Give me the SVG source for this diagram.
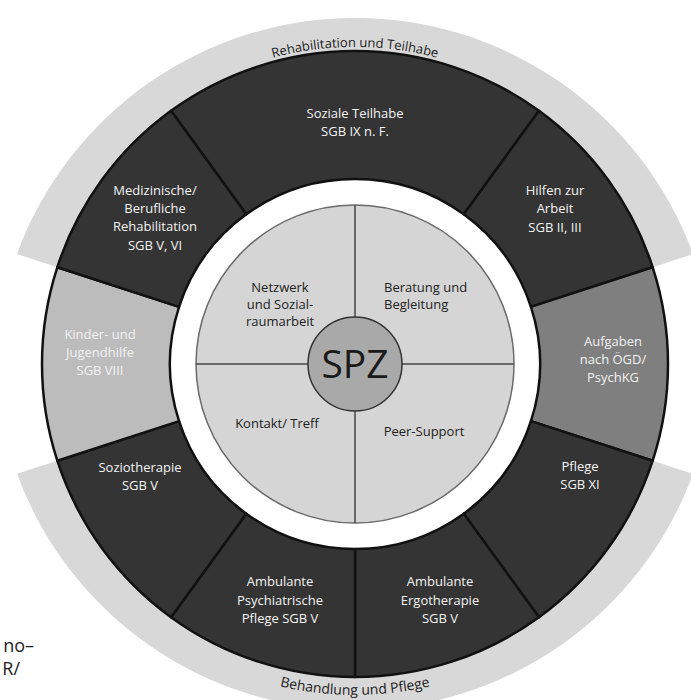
<svg xmlns="http://www.w3.org/2000/svg" width="691" height="700" viewBox="0 0 691 700">
<style>
.band{fill:#d8d8d8;stroke:none}
.seg{stroke:#111;stroke-width:2.5;stroke-linejoin:round}
.dark{fill:#343434}
.lt{font-family:"Open Sans","Noto Sans","DejaVu Sans",sans-serif;font-size:13px;fill:#f2f2f2;text-anchor:middle}
.it{font-family:"Open Sans","Noto Sans","DejaVu Sans",sans-serif;font-size:13px;fill:#222}
.bt{font-family:"Open Sans","Noto Sans","DejaVu Sans",sans-serif;fill:#222}
.div{stroke:#444;stroke-width:1.5;fill:none}
</style>
<defs>
<path id="topArc" d="M 57.1 255.6 A 317 317 0 0 1 652.9 255.6"/>
<path id="botArc" d="M 44 477.2 A 331 331 0 0 0 666 477.2"/>
</defs>
<rect width="691" height="700" fill="#ffffff"/>

<g id="band-top">
<path class="band" d="M 57.3 267.3 L 17 254 A 360 360 0 0 1 693 254 L 652.7 267.3 A 313 313 0 0 0 57.3 267.3 Z"/>
<text class="bt" font-size="13"><textPath href="#topArc" startOffset="50%" text-anchor="middle">Rehabilitation und Teilhabe</textPath></text>
</g>
<g id="band-bottom">
<path class="band" d="M 57.3 460.7 L 17 473.8 A 360 360 0 0 0 693 473.8 L 652.7 460.7 A 313 313 0 0 1 57.3 460.7 Z"/>
<text class="bt" font-size="14"><textPath href="#botArc" startOffset="50%" text-anchor="middle">Behandlung und Pflege</textPath></text>
</g>

<g id="soziale-teilhabe">
<path class="seg dark" d="M 171.02 110.78 A 313 313 0 0 1 538.98 110.78 L 463.74 214.33 A 185 185 0 0 0 246.26 214.33 Z"/>
<text class="lt" x="355" y="118">Soziale Teilhabe</text>
<text class="lt" x="355" y="136">SGB IX n. F.</text>
</g>
<g id="hilfen-arbeit">
<path class="seg dark" d="M 538.98 110.78 A 313 313 0 0 1 652.68 267.28 L 530.95 306.83 A 185 185 0 0 0 463.74 214.33 Z"/>
<text class="lt" x="555" y="195">Hilfen zur</text>
<text class="lt" x="555" y="213">Arbeit</text>
<text class="lt" x="555" y="232">SGB II, III</text>
</g>
<g id="aufgaben">
<path class="seg" fill="#7f7f7f" d="M 652.68 267.28 A 313 313 0 0 1 652.68 460.72 L 530.95 421.17 A 185 185 0 0 0 530.95 306.83 Z"/>
<text class="lt" x="613" y="346">Aufgaben</text>
<text class="lt" x="613" y="364">nach ÖGD/</text>
<text class="lt" x="613" y="382">PsychKG</text>
</g>
<g id="pflege">
<path class="seg dark" d="M 652.68 460.72 A 313 313 0 0 1 538.98 617.22 L 463.74 513.67 A 185 185 0 0 0 530.95 421.17 Z"/>
<text class="lt" x="580" y="471">Pflege</text>
<text class="lt" x="580" y="489">SGB XI</text>
</g>
<g id="ergotherapie">
<path class="seg dark" d="M 538.98 617.22 A 313 313 0 0 1 355 677 L 355 549 A 185 185 0 0 0 463.74 513.67 Z"/>
<text class="lt" x="440" y="586">Ambulante</text>
<text class="lt" x="440" y="605">Ergotherapie</text>
<text class="lt" x="440" y="623">SGB V</text>
</g>
<g id="psychiatrische-pflege">
<path class="seg dark" d="M 355 677 A 313 313 0 0 1 171.02 617.22 L 246.26 513.67 A 185 185 0 0 0 355 549 Z"/>
<text class="lt" x="280" y="586">Ambulante</text>
<text class="lt" x="280" y="605">Psychiatrische</text>
<text class="lt" x="280" y="623">Pflege SGB V</text>
</g>
<g id="soziotherapie">
<path class="seg dark" d="M 171.02 617.22 A 313 313 0 0 1 57.32 460.72 L 179.05 421.17 A 185 185 0 0 0 246.26 513.67 Z"/>
<text class="lt" x="140" y="472">Soziotherapie</text>
<text class="lt" x="140" y="490">SGB V</text>
</g>
<g id="kinder-jugendhilfe">
<path class="seg" fill="#bcbcbc" d="M 57.32 460.72 A 313 313 0 0 1 57.32 267.28 L 179.05 306.83 A 185 185 0 0 0 179.05 421.17 Z"/>
<text class="lt" x="100" y="339">Kinder- und</text>
<text class="lt" x="100" y="357">Jugendhilfe</text>
<text class="lt" x="100" y="375">SGB VIII</text>
</g>
<g id="medizinische-rehabilitation">
<path class="seg dark" d="M 57.32 267.28 A 313 313 0 0 1 171.02 110.78 L 246.26 214.33 A 185 185 0 0 0 179.05 306.83 Z"/>
<text class="lt" x="155" y="195">Medizinische/</text>
<text class="lt" x="155" y="213">Berufliche</text>
<text class="lt" x="155" y="231">Rehabilitation</text>
<text class="lt" x="155" y="250">SGB V, VI</text>
</g>

<g id="inner-circle">
<circle cx="355" cy="364" r="159" fill="#d5d5d5" stroke="#6a6a6a" stroke-width="1.5"/>
</g>
<g id="connectors">
<line class="div" x1="355" y1="205" x2="355" y2="317"/>
<line class="div" x1="355" y1="411" x2="355" y2="523"/>
<line class="div" x1="196" y1="364" x2="308" y2="364"/>
<line class="div" x1="402" y1="364" x2="514" y2="364"/>
</g>
<g id="netzwerk">
<text class="it" x="280" y="292" text-anchor="middle">Netzwerk</text>
<text class="it" x="280" y="309" text-anchor="middle">und Sozial-</text>
<text class="it" x="280" y="326" text-anchor="middle">raumarbeit</text>
</g>
<g id="beratung">
<text class="it" x="384" y="292">Beratung und</text>
<text class="it" x="384" y="309">Begleitung</text>
</g>
<g id="kontakt">
<text class="it" x="277" y="428" text-anchor="middle">Kontakt/ Treff</text>
</g>
<g id="peer-support">
<text class="it" x="424" y="436" text-anchor="middle">Peer-Support</text>
</g>
<g id="spz">
<circle cx="355" cy="364" r="47" fill="#a9a9a9" stroke="#333" stroke-width="1.5"/>
<text x="355" y="378" text-anchor="middle" font-family="'Open Sans','Noto Sans',sans-serif" font-size="39" fill="#1a1a1a">SPZ</text>
</g>

<g id="fragments">
<text x="34" y="652" text-anchor="end" font-family="'Open Sans','Noto Sans',sans-serif" font-size="18" fill="#222">no–</text>
<text x="20" y="675" text-anchor="end" font-family="'Open Sans','Noto Sans',sans-serif" font-size="18" fill="#222">R/</text>
</g>
</svg>
